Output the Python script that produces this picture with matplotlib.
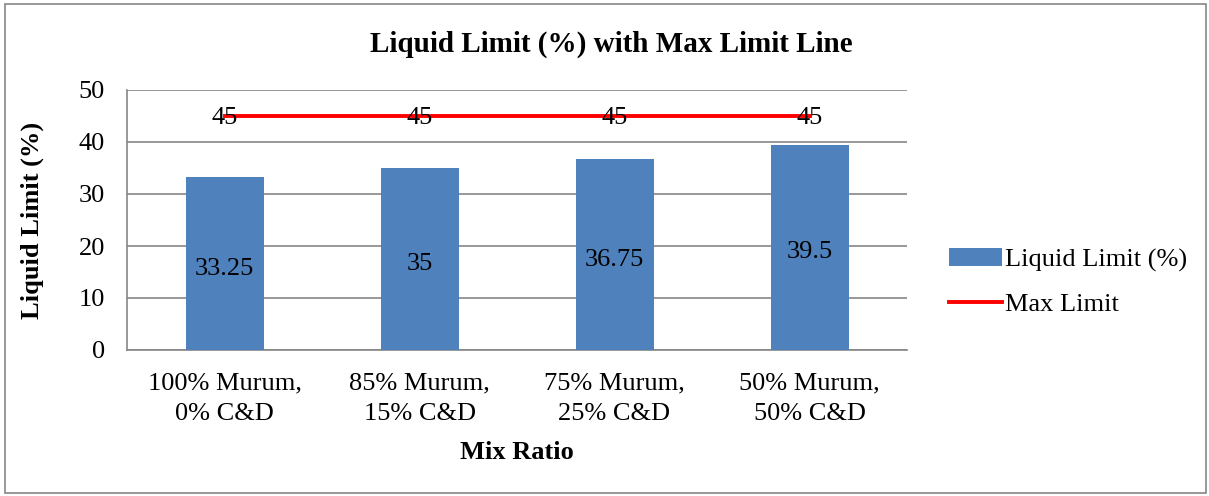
import matplotlib

matplotlib.use("Agg")
import matplotlib.pyplot as plt
from matplotlib.patches import Rectangle
import numpy as np

# Mix ratios and measured liquid limit values
mezclas = ["100% Murum,\n0% C&D", "85% Murum,\n15% C&D", "75% Murum,\n25% C&D", "50% Murum,\n50% C&D"]
limite_liquido = [33.25, 35, 36.75, 39.5]
limite_maximo = [45, 45, 45, 45]

AZUL = "#4F81BD"
ROJO = "#FF0000"
GRIS = "#868686"
FS = 19

plt.rcParams["font.family"] = ["Liberation Serif", "DejaVu Serif"]

fig = plt.figure(figsize=(12.09, 4.96), dpi=100)
ax = fig.add_axes([127 / 1209, 1 - 350 / 496, 780 / 1209, 260 / 496])

# Chart border
fig.patches.append(Rectangle((5 / 1209, 3 / 496), 1201 / 1209, 489 / 496,
                             transform=fig.transFigure, fill=False,
                             edgecolor=GRIS, linewidth=1.2))

x = np.arange(len(mezclas))
barras = ax.bar(x, limite_liquido, width=0.4, color=AZUL, zorder=3,
                label="Liquid Limit (%)")
linea, = ax.plot(x, limite_maximo, color=ROJO, linewidth=2.8, zorder=4,
                 label="Max Limit")

for xi, v in zip(x, limite_liquido):
    ax.text(xi, v / 2 - 1, f"{v:g}", ha="center", va="center", fontsize=FS,
            zorder=5)
for xi, v in zip(x, limite_maximo):
    ax.text(xi, v - 0.3, f"{v:g}", ha="center", va="center", fontsize=FS,
            zorder=5)

ax.set_xlim(-0.5, len(mezclas) - 0.5)
ax.set_ylim(0, 50)
ax.set_yticks(range(0, 51, 10))
ax.yaxis.grid(True, color=GRIS, linewidth=1.2, zorder=0)
ax.set_xticks(x)
ax.set_xticklabels(mezclas, fontsize=FS, linespacing=1.5)
ax.tick_params(axis="y", labelsize=FS, length=0, pad=16)
ax.tick_params(axis="x", length=0, pad=16)

for lado in ["top", "right"]:
    ax.spines[lado].set_visible(False)
for lado in ["left", "bottom"]:
    ax.spines[lado].set_color(GRIS)
    ax.spines[lado].set_linewidth(1.2)

ax.set_xlabel("Mix Ratio", fontsize=FS, fontweight="bold", labelpad=12)
ax.set_ylabel("Liquid Limit (%)", fontsize=FS, fontweight="bold", labelpad=25)
fig.text(611 / 1209, 1 - 44 / 496, "Liquid Limit (%) with Max Limit Line",
         ha="center", va="center", fontsize=21, fontweight="bold")

fig.legend(handles=[barras, linea], loc="center left",
           bbox_to_anchor=(925 / 1209, 1 - 282 / 496), frameon=False,
           fontsize=FS, handlelength=2.0, handletextpad=0.15,
           labelspacing=0.8)

fig.savefig("out.png", dpi=100)
